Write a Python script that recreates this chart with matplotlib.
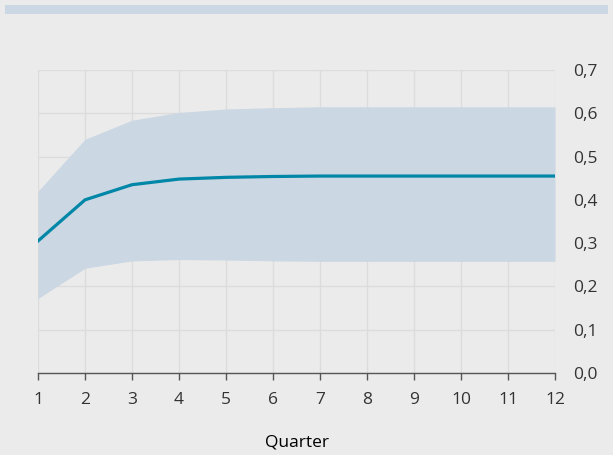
import numpy as np
import matplotlib.pyplot as plt
from matplotlib.patches import Rectangle

quarters = [1, 2, 3, 4, 5, 6, 7, 8, 9, 10, 11, 12]
response = [0.305, 0.400, 0.435, 0.448, 0.452, 0.454, 0.455, 0.455, 0.455, 0.455, 0.455, 0.455]
upper = [0.420, 0.540, 0.584, 0.602, 0.610, 0.613, 0.615, 0.615, 0.615, 0.615, 0.615, 0.615]
lower = [0.172, 0.242, 0.259, 0.262, 0.261, 0.259, 0.258, 0.258, 0.258, 0.258, 0.258, 0.258]
yticks = [0.0, 0.1, 0.2, 0.3, 0.4, 0.5, 0.6, 0.7]

bg = '#ebebeb'
band = '#cbd7e3'
line_c = '#0087a8'

plt.rcParams['font.family'] = ['Open Sans', 'DejaVu Sans']

fig = plt.figure(figsize=(6.13, 4.55), dpi=100, facecolor=bg)
ax = fig.add_axes([38 / 613, 1 - 373 / 455, (555 - 38) / 613, (373 - 70) / 455])
ax.set_facecolor(bg)

# legend-like bar at top
fig.patches.append(Rectangle((5 / 613, 1 - 14 / 455), 603 / 613, 9 / 455,
                             transform=fig.transFigure, facecolor=band, edgecolor='none'))

ax.fill_between(quarters, lower, upper, color=band, linewidth=0, zorder=2)
ax.plot(quarters, response, color=line_c, linewidth=2.3, zorder=3)

ax.set_xlim(1, 12)
ax.set_ylim(0, 0.7)
ax.set_xticks(quarters)
ax.set_yticks(yticks)
ax.set_yticklabels([f'{v:.1f}'.replace('.', ',') for v in yticks])
ax.yaxis.tick_right()
ax.grid(True, color='#dcdcdc', linewidth=1, zorder=1)
ax.set_axisbelow(True)

for s in ['top', 'left', 'right']:
    ax.spines[s].set_visible(False)
ax.spines['bottom'].set_color('#555555')
ax.spines['bottom'].set_linewidth(1)
ax.spines['bottom'].set_zorder(4)

ax.tick_params(axis='x', colors='#555555', length=5, width=1, labelsize=12.5,
               labelcolor='#333333', pad=9)
ax.tick_params(axis='y', length=0, labelsize=12.5, labelcolor='#333333', pad=13)

ax.set_xlabel('Quarter', fontsize=12.5, color='black', labelpad=19)

fig.savefig('out.png', dpi=100, facecolor=bg)
